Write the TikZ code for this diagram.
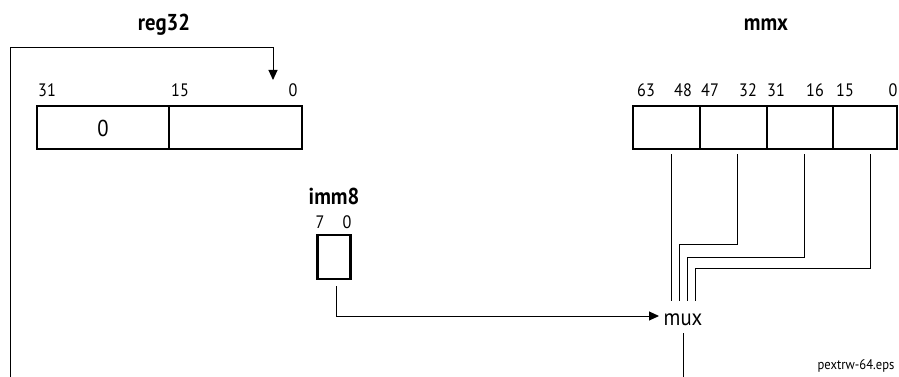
\documentclass[tikz,border=0pt]{standalone}
\usepackage{fontspec}
\setmainfont{PT Sans}[FakeStretch=0.9]
\usetikzlibrary{arrows.meta}
\begin{document}
\begin{tikzpicture}[x=1pt,y=-1pt,
  cell/.style={draw,line width=2.2pt,minimum height=43pt,inner sep=0pt,anchor=center},
  wire/.style={line width=1pt},
  arr/.style={wire,-{Triangle[length=10pt,width=9pt]}},
  title/.style={font=\bfseries\fontsize{23}{26}\selectfont,inner sep=0pt},
  bit/.style={font=\fontsize{18}{20}\selectfont,inner sep=0pt},
  lbl/.style={font=\fontsize{23}{25}\selectfont,inner sep=0pt}]
\useasboundingbox (0,0) rectangle (899,377);
% titles
\node[title] (treg) at (164,25) {reg32};
\node[title] (tmmx) at (766,25) {mmx};
\node[title] (timm) at (334,196) {imm8};
% reg32
\node[cell,minimum width=132pt] (r1) at (103,127.5) {};
\node[cell,minimum width=133pt] (r0) at (235.5,127.5) {};
\node[lbl] (rz) at (103,128) {0};
\node[bit] (b31) at (47,90) {31};
\node[bit] (b15) at (180,90) {15};
\node[bit] (b0) at (293,90) {0};
% mmx
\node[cell,minimum width=67pt] (m3) at (666.5,127.5) {};
\node[cell,minimum width=67pt] (m2) at (733.5,127.5) {};
\node[cell,minimum width=66pt] (m1) at (800,127.5) {};
\node[cell,minimum width=64pt] (m0) at (865,127.5) {};
\foreach \t/\x in {63/646,48/683,47/710,32/748,31/776,16/815,15/845,0/893}
  \node[bit] (mb\t) at (\x,90) {\t};
% imm8
\node[cell,minimum width=33pt,minimum height=44pt] (imm) at (334,257) {};
\node[bit] (i7) at (320,222) {7};
\node[bit] (i0) at (347,222) {0};
% mux
\node[lbl,anchor=center] (mux) at (683,320) {mux};
\node[font=\fontsize{14}{16}\selectfont,inner sep=0pt] (file) at (856,366) {pextrw-64.eps};
% coordinates
\coordinate (a0) at (10,377);
\coordinate (a1) at (10,48);
\coordinate (a2) at (273,48);
\coordinate (a3) at (273,80);
\draw[arr] (a0) -- (a1) -- (a2) -- (a3);
\coordinate (i1) at (336,286);
\coordinate (i2) at (336,316);
\coordinate (i3) at (659,316);
\draw[arr] (i1) -- (i2) -- (i3);
\coordinate (s3) at (671,154);
\coordinate (s2) at (737,154);
\coordinate (s1) at (804,154);
\coordinate (s0) at (870,154);
\draw[wire] (s3) -- (671,301);
\draw[wire] (s2) -- (737,244) -- (679,244) -- (679,301);
\draw[wire] (s1) -- (804,257) -- (687,257) -- (687,301);
\draw[wire] (s0) -- (870,268) -- (695,268) -- (695,301);
\coordinate (o1) at (683,333);
\coordinate (o2) at (683,377);
\draw[wire] (o1) -- (o2);
\end{tikzpicture}
\end{document}
